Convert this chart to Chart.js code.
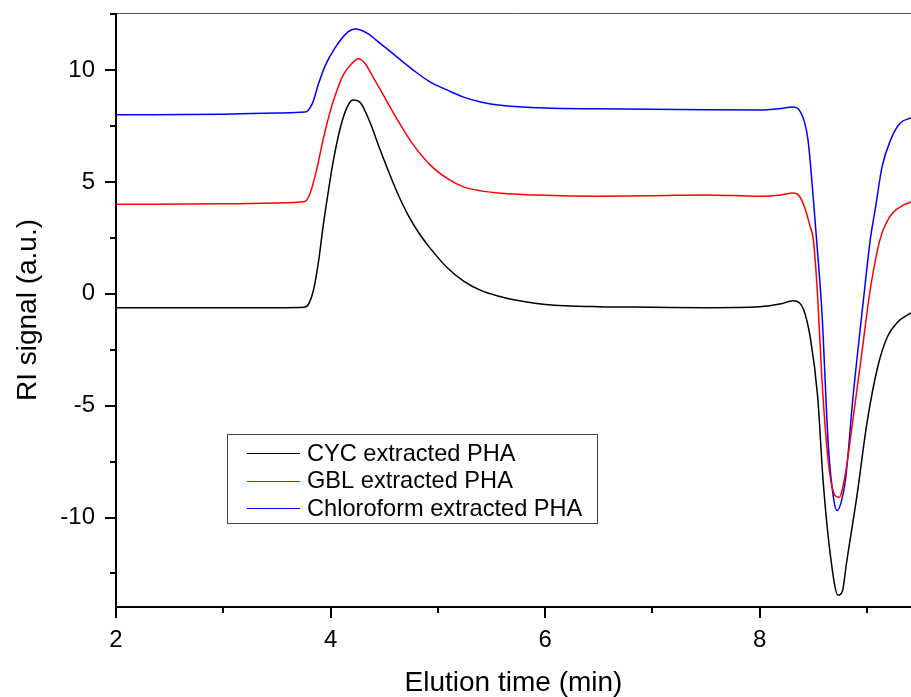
<!DOCTYPE html>
<html>
<head>
<meta charset="utf-8">
<script src="https://cdn.jsdelivr.net/npm/chart.js@4/dist/chart.umd.min.js"></script>
<style>
    html, body { margin: 0; padding: 0; background: #fff; }
    #wrap { width: 911px; height: 697px; }
</style>
</head>
<body>
<div id="wrap"><canvas id="chart" width="911" height="697"></canvas></div>
<script>
// Series (time in min, RI signal in a.u.)
const cycTime = [2.0, 3.0, 3.5, 3.76, 3.80, 3.84, 3.89, 3.93, 3.98, 4.02, 4.09, 4.15, 4.21, 4.28, 4.37, 4.46, 4.62, 4.72, 4.82, 4.93, 5.09, 5.24, 5.40, 5.56, 5.8, 6.0, 6.5, 7.0, 7.5, 8.0, 8.2, 8.31, 8.37, 8.41, 8.47, 8.54, 8.59, 8.66, 8.73, 8.77, 8.81, 8.91, 9.0, 9.1, 9.19, 9.28, 9.41];
const cycSignal = [-0.63, -0.62, -0.62, -0.6, -0.42, 0.15, 1.52, 3.0, 4.6, 5.8, 7.4, 8.3, 8.66, 8.53, 7.63, 6.46, 4.54, 3.54, 2.74, 2.03, 1.15, 0.57, 0.15, -0.1, -0.35, -0.48, -0.58, -0.6, -0.62, -0.58, -0.45, -0.31, -0.4, -0.71, -1.92, -4.6, -8.3, -11.74, -13.48, -13.3, -12.0, -8.9, -5.76, -3.26, -1.92, -1.29, -0.85];

const gblTime = [2.0, 3.0, 3.5, 3.76, 3.81, 3.87, 3.93, 4.0, 4.06, 4.12, 4.2, 4.26, 4.32, 4.40, 4.49, 4.56, 4.62, 4.75, 4.93, 5.09, 5.24, 5.40, 5.56, 6.0, 6.5, 7.0, 7.5, 8.0, 8.2, 8.31, 8.36, 8.42, 8.47, 8.50, 8.54, 8.58, 8.64, 8.70, 8.74, 8.80, 8.86, 8.94, 9.03, 9.12, 9.18, 9.24, 9.34, 9.41];
const gblSignal = [4.0, 4.02, 4.06, 4.12, 4.5, 5.54, 6.88, 8.21, 9.1, 9.8, 10.3, 10.5, 10.3, 9.65, 8.9, 8.3, 7.8, 6.8, 5.75, 5.15, 4.78, 4.6, 4.51, 4.4, 4.36, 4.38, 4.42, 4.36, 4.42, 4.5, 4.42, 3.84, 3.0, 2.41, -0.13, -3.84, -7.54, -9.0, -9.1, -8.0, -5.94, -3.08, 0.18, 2.41, 3.17, 3.62, 3.97, 4.1];

const chlTime = [2.0, 3.0, 3.5, 3.76, 3.78, 3.83, 3.89, 3.95, 4.04, 4.15, 4.23, 4.34, 4.46, 4.62, 4.77, 4.93, 5.09, 5.24, 5.40, 5.56, 6.0, 6.5, 7.0, 7.5, 8.0, 8.2, 8.31, 8.37, 8.42, 8.45, 8.48, 8.51, 8.53, 8.58, 8.64, 8.69, 8.72, 8.76, 8.80, 8.87, 8.97, 9.03, 9.08, 9.14, 9.22, 9.31, 9.41];
const chlSignal = [8.0, 8.03, 8.08, 8.12, 8.15, 8.5, 9.42, 10.2, 10.98, 11.65, 11.83, 11.65, 11.2, 10.58, 10.0, 9.46, 9.1, 8.79, 8.57, 8.44, 8.3, 8.27, 8.25, 8.22, 8.21, 8.28, 8.35, 8.2, 7.63, 6.88, 5.4, 3.62, 2.41, -0.85, -6.83, -9.2, -9.69, -9.3, -8.3, -4.6, -0.13, 2.41, 3.88, 5.67, 6.88, 7.63, 7.86];

const seriesLabels = ['CYC extracted PHA', 'GBL extracted PHA', 'Chloroform extracted PHA'];
const seriesColors = ['#000000', '#ff0000', '#0000ff'];

const xTicks = [2, 4, 6, 8];
const yTicks = [-10, -5, 0, 5, 10];

const FONT = '"Liberation Sans", Arial, sans-serif';

const toPoints = (xs, ys) => xs.map((x, i) => ({ x: x, y: ys[i] }));

// Axis frame, outward ticks (major + minor) and the boxed legend
const framePlugin = {
    id: 'frame',
    afterDatasetsDraw(chart) {
        const { ctx, chartArea: area, scales } = chart;
        const xs = scales.x;
        const ys = scales.y;
        ctx.save();

        // top border
        ctx.strokeStyle = '#555';
        ctx.lineWidth = 1;
        ctx.beginPath();
        ctx.moveTo(area.left, area.top + 0.5);
        ctx.lineTo(area.right, area.top + 0.5);
        ctx.stroke();

        ctx.strokeStyle = '#000';
        ctx.lineWidth = 2;
        ctx.beginPath();
        ctx.moveTo(area.left, area.top);
        ctx.lineTo(area.left, area.bottom + 1);
        ctx.moveTo(area.left - 1, area.bottom);
        ctx.lineTo(area.right, area.bottom);
        ctx.stroke();

        // x ticks
        for (let v = 2; v <= xs.max; v += 1) {
            const px = Math.round(xs.getPixelForValue(v));
            const len = v % 2 === 0 ? 11 : 6;
            ctx.beginPath();
            ctx.moveTo(px, area.bottom);
            ctx.lineTo(px, area.bottom + len);
            ctx.stroke();
        }
        // y ticks
        for (let v = -12.5; v <= ys.max; v += 2.5) {
            const py = Math.round(ys.getPixelForValue(v));
            const len = v % 5 === 0 ? 11 : 6;
            ctx.beginPath();
            ctx.moveTo(area.left, py);
            ctx.lineTo(area.left - len, py);
            ctx.stroke();
        }

        // legend box
        const box = { left: 227, top: 434, width: 370, height: 89 };
        ctx.fillStyle = '#fff';
        ctx.fillRect(box.left, box.top, box.width, box.height);
        ctx.strokeStyle = '#444';
        ctx.lineWidth = 1;
        ctx.strokeRect(box.left + 0.5, box.top + 0.5, box.width, box.height);

        ctx.font = '23.6px ' + FONT;
        ctx.textBaseline = 'middle';
        ctx.textAlign = 'left';
        chart.data.datasets.forEach((ds, i) => {
            const y = box.top + 19 + i * 27.5;
            ctx.strokeStyle = ds.borderColor;
            ctx.lineWidth = 1;
            ctx.beginPath();
            ctx.moveTo(box.left + 20, Math.round(y) + 0.5);
            ctx.lineTo(box.left + 73, Math.round(y) + 0.5);
            ctx.stroke();
            ctx.fillStyle = '#000';
            ctx.fillText(ds.label, box.left + 80, y + 1);
        });
        ctx.restore();
    }
};

const ctx = document.getElementById('chart').getContext('2d');
new Chart(ctx, {
    type: 'line',
    data: {
        datasets: [
            { label: seriesLabels[0], data: toPoints(cycTime, cycSignal), borderColor: seriesColors[0] },
            { label: seriesLabels[1], data: toPoints(gblTime, gblSignal), borderColor: seriesColors[1] },
            { label: seriesLabels[2], data: toPoints(chlTime, chlSignal), borderColor: seriesColors[2] }
        ].map(ds => Object.assign(ds, {
            borderWidth: 1.5,
            pointRadius: 0,
            fill: false,
            cubicInterpolationMode: 'monotone'
        }))
    },
    options: {
        responsive: false,
        animation: false,
        devicePixelRatio: 1,
        layout: { padding: { top: 13, right: 0, bottom: 0, left: 0 } },
        plugins: {
            legend: { display: false },
            tooltip: { enabled: false }
        },
        scales: {
            x: {
                type: 'linear',
                min: 2,
                max: 9.41,
                grid: { display: false, drawTicks: false },
                border: { display: false },
                afterFit: s => {
                    s.height = 90;
                    s.paddingLeft = 0;
                    s.paddingRight = 0;
                },
                afterBuildTicks: s => { s.ticks = xTicks.map(v => ({ value: v })); },
                ticks: {
                    includeBounds: false,
                    padding: 19,
                    color: '#000',
                    font: { family: FONT, size: 24 }
                },
                title: {
                    display: true,
                    text: 'Elution time (min)',
                    color: '#000',
                    font: { family: FONT, size: 28, lineHeight: 1 },
                    padding: { top: 0, bottom: 0 }
                }
            },
            y: {
                type: 'linear',
                min: -14,
                max: 12.55,
                grid: { display: false, drawTicks: false },
                border: { display: false },
                afterFit: s => {
                    s.width = 116;
                    s.paddingTop = 0;
                    s.paddingBottom = 0;
                },
                afterBuildTicks: s => { s.ticks = yTicks.map(v => ({ value: v })); },
                ticks: {
                    includeBounds: false,
                    padding: 21,
                    color: '#000',
                    font: { family: FONT, size: 24 }
                },
                title: {
                    display: true,
                    text: 'RI signal (a.u.)',
                    color: '#000',
                    font: { family: FONT, size: 28, lineHeight: 1 },
                    padding: { top: 14, bottom: 0 }
                }
            }
        }
    },
    plugins: [framePlugin]
});
</script>
</body>
</html>
